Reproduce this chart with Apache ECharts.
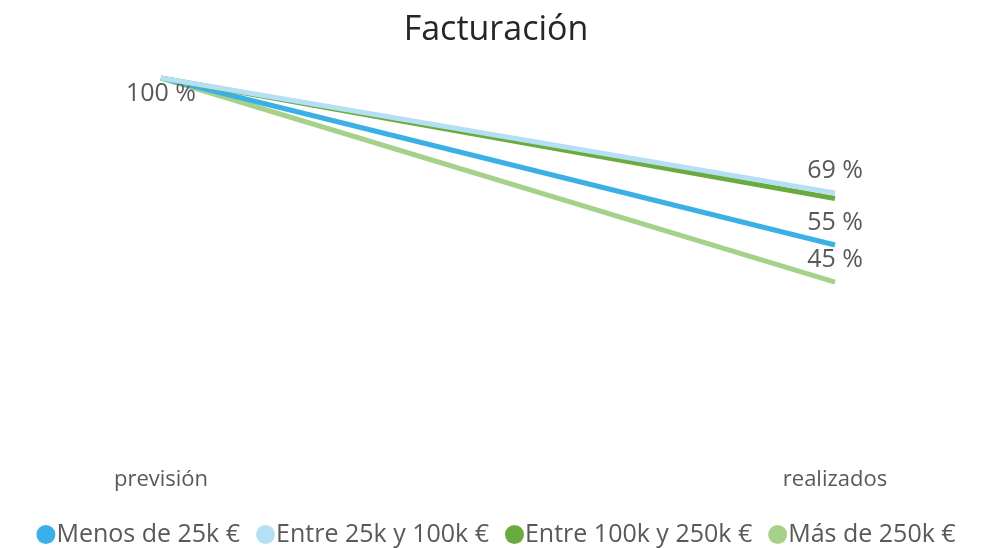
<!DOCTYPE html>
<html>
<head>
<meta charset="utf-8">
<script src="https://cdn.jsdelivr.net/npm/echarts@6/dist/echarts.min.js"></script>
<style>
  html, body { margin: 0; padding: 0; background: #fff; }
  #chart { width: 992px; height: 548px; }
</style>
</head>
<body>
<div id="chart"></div>
<script>
// categorias del eje x
const categories = ['previsión', 'realizados'];
// nombres de las series
const seriesNames = ['Menos de 25k €', 'Entre 25k y 100k €', 'Entre 100k y 250k €', 'Más de 250k €'];
// valores (%)
const menos25k = [100, 55];
const entre25y100k = [100, 69];
const entre100y250k = [100, 67.5];
const mas250k = [100, 45];
// que etiquetas se ven (por serie y punto)
const labelShown = [
  [true, true],
  [false, true],
  [false, false],
  [false, true]
];

const colors = ['#3bb0e6', '#b4dff4', '#6aaa3f', '#a6d18b'];
const values = [menos25k, entre25y100k, entre100y250k, mas250k];

const font = '"Open Sans", "Noto Sans", sans-serif';

const chart = echarts.init(document.getElementById('chart'));

const series = seriesNames.map((name, i) => ({
  name: name,
  type: 'line',
  data: values[i].map((v, j) => ({
    value: v,
    label: {
      show: labelShown[i][j],
      position: j === 0 ? 'bottom' : 'top',
      distance: j === 0 ? 3 : 10
    }
  })),
  color: colors[i],
  showSymbol: true,
  symbol: 'circle',
  symbolSize: 0,
  lineStyle: { width: 5, cap: 'butt' },
  label: {
    fontFamily: font,
    fontSize: 25,
    color: '#595959',
    formatter: p => Math.round(p.value) + ' %'
  },
  labelLayout: { hideOverlap: false },
  z: [2, 4, 3, 1][i]
}));

chart.setOption({
  animation: false,
  title: {
    text: 'Facturación',
    left: 'center',
    top: 8,
    textStyle: { fontFamily: font, fontSize: 34, fontWeight: 'normal', color: '#262626' }
  },
  legend: {
    data: seriesNames,
    top: 517,
    left: 'center',
    icon: 'circle',
    itemWidth: 19,
    itemHeight: 19,
    itemGap: 16,
    textStyle: { fontFamily: font, fontSize: 25, color: '#595959', padding: [0, 0, 0, -4] }
  },
  grid: { left: 161, right: 157, top: 78, bottom: 99 },
  xAxis: {
    type: 'category',
    data: categories,
    boundaryGap: false,
    axisLine: { show: false },
    axisTick: { show: false },
    axisLabel: { fontFamily: font, fontSize: 22, color: '#595959', margin: 20 }
  },
  yAxis: {
    type: 'value',
    min: 0,
    max: 100,
    show: false
  },
  series: series
});
</script>
</body>
</html>
